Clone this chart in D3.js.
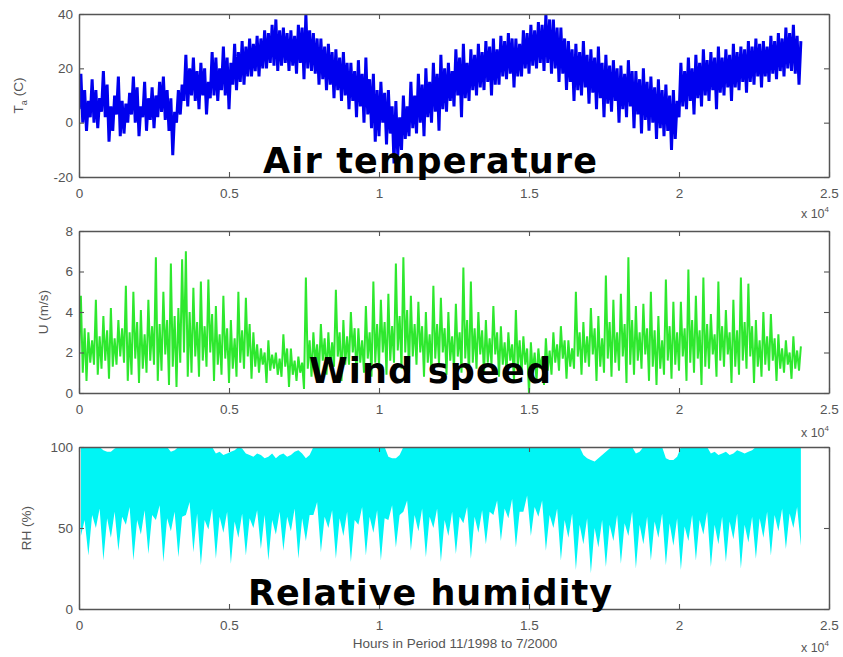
<!DOCTYPE html>
<html>
<head>
<meta charset="utf-8">
<script src="https://cdn.jsdelivr.net/npm/d3@7/dist/d3.min.js"></script>
<style>
  html, body { margin: 0; padding: 0; background: #fff; }
  svg { display: block; }
  .tick text { font-family: "Liberation Sans", Arial, sans-serif; font-size: 13.5px; fill: #555; }
  .axis path, .axis line { stroke: #555; }
</style>
</head>
<body>
<svg id="chart" width="843" height="657"></svg>
<script>
// Hourly records, summarised as the low and high reading of each 125-hour block
const BLOCK_HOURS = 125;

// Air temperature (C)
const tempLow = [
  5,0,-3,2,0,-2,4,2,-7,-3,
  3,-5,-4,0,3,0,-5,2,-3,1,
  -2,2,4,1,-3,-12,0,3,8,6,
  10,8,5,10,3,9,10,8,12,10,
  5,14,12,15,14,17,17,19,17,20,
  20,22,21,19,21,22,19,21,18,22,
  16,20,19,18,14,16,12,14,9,12,
  8,10,5,8,2,6,0,3,-2,-7,
  -5,0,-8,-4,-15,-12,-10,-6,-5,-2,
  -4,0,-5,2,0,4,-3,5,4,8,
  6,10,2,9,8,12,10,13,12,15,
  10,14,14,17,16,18,13,17,17,20,
  18,21,20,22,19,22,18,20,15,18,
  12,15,8,12,10,13,7,11,5,9,
  2,7,4,8,0,5,2,6,-2,3,
  -4,1,-3,0,-6,-2,-5,-3,-10,-6,
  2,6,5,8,3,9,6,10,8,12,
  5,11,10,13,8,13,12,15,11,15,
  14,17,13,17,15,18,16,19,17,20,
  19,18,14];
const tempHigh = [
  18,12,8,16,12,9,19,14,6,10,
  17,8,7,11,17,13,6,15,9,13,
  10,15,17,12,9,4,12,14,25,20,
  24,19,22,20,15,26,24,20,28,24,
  22,29,26,30,28,31,29,32,31,34,
  33,36,38,34,35,33,34,32,36,35,
  40,34,33,31,31,28,29,26,27,24,
  26,22,22,19,23,18,24,16,18,12,
  15,11,12,6,8,2,10,6,15,10,
  18,14,20,15,22,18,25,20,22,19,
  27,24,29,22,27,25,29,26,30,28,
  31,27,32,30,33,31,31,29,34,33,
  36,34,37,36,40,38,38,35,35,31,
  30,27,29,26,30,25,27,24,28,22,
  25,21,23,20,21,18,23,19,19,16,
  20,15,17,13,16,12,14,10,12,8,
  22,19,24,20,25,22,27,23,26,24,
  28,24,27,25,29,26,28,27,30,28,
  31,29,30,28,32,30,33,31,35,33,
  36,32,30];

// Wind speed (m/s)
const windLow = [
  1.8,1.0,0.6,1.5,1.4,0.9,1.2,1.6,0.7,1.3,
  1.4,1.8,1.5,0.6,0.9,1.7,0.5,1.2,1.0,1.6,
  1.4,0.6,1.1,1.9,0.4,1.3,0.3,1.5,2.0,0.8,
  1.0,1.8,0.8,1.6,1.3,2.0,0.6,1.4,0.9,1.7,
  0.5,1.2,0.8,1.5,1.2,1.8,0.7,1.3,1.0,1.4,
  0.5,1.1,1.2,0.9,0.8,1.3,0.3,0.9,0.6,1.0,
  0.2,1.2,0.8,1.5,1.0,1.6,0.9,1.3,1.3,1.8,
  0.6,1.4,1.4,2.0,0.7,1.5,1.0,1.7,0.8,1.5,
  1.3,2.0,0.9,1.6,1.5,2.1,1.2,2.0,1.0,1.8,
  1.4,2.0,0.8,1.5,1.0,1.7,1.4,2.0,0.9,1.6,
  1.2,1.8,1.0,1.7,0.7,1.5,1.2,1.9,0.9,1.5,
  1.4,1.9,0.8,1.4,1.0,1.6,0.6,1.3,0.9,1.4,
  0.0,1.0,0.6,1.2,0.4,1.1,0.9,1.5,1.1,1.7,
  0.7,1.3,1.2,1.8,0.9,1.5,1.3,1.9,0.6,1.3,
  1.0,1.7,0.8,1.5,1.1,1.8,0.5,1.4,0.9,1.6,
  1.2,1.9,0.6,1.3,0.4,1.2,0.9,1.6,0.7,1.4,
  1.1,1.8,0.6,1.5,1.0,1.7,0.4,1.3,1.2,1.9,
  0.8,1.6,1.3,1.9,0.5,1.3,0.9,1.6,1.2,1.8,
  0.5,1.3,0.8,1.4,1.1,1.6,0.6,1.2,1.0,1.4,
  0.7,1.2,1.1];
const windHigh = [
  4.8,3.2,3.0,2.6,4.6,2.8,3.8,3.1,4.2,2.7,
  3.6,3.2,5.3,3.0,5.0,3.5,4.1,2.9,4.6,3.3,
  6.7,3.4,5.0,3.6,6.4,3.8,4.2,6.6,7.0,4.0,
  5.2,3.5,5.5,3.3,5.6,3.9,4.3,2.9,4.8,3.2,
  3.6,2.7,5.0,3.1,4.7,3.4,3.0,2.4,2.2,2.0,
  2.6,1.9,2.0,1.7,2.9,2.2,2.2,1.6,1.8,1.5,
  5.7,2.6,3.0,2.4,3.4,2.7,3.0,2.5,5.1,3.0,
  3.6,2.8,4.0,3.2,3.2,2.6,4.3,3.0,5.5,3.4,
  4.6,3.5,4.9,3.3,6.4,3.8,6.7,4.1,4.8,3.4,
  4.5,3.3,4.0,2.9,5.3,3.4,4.7,3.2,4.0,2.8,
  4.4,3.0,6.2,3.6,5.5,3.2,4.0,3.1,3.6,2.7,
  4.3,3.0,3.3,2.5,3.0,2.4,4.1,2.6,2.8,2.2,
  2.5,2.0,2.2,1.8,2.7,2.1,3.0,2.4,3.3,2.6,
  2.6,2.2,5.0,3.0,3.5,2.8,4.2,3.2,3.8,2.7,
  5.8,3.5,4.6,3.0,4.9,3.4,6.7,3.6,4.3,3.0,
  4.4,3.2,5.0,3.1,3.8,2.6,5.6,3.3,4.5,3.0,
  4.5,3.2,6.1,3.6,4.8,3.1,5.7,3.4,3.9,2.9,
  5.5,3.3,4.1,3.0,4.6,3.1,5.7,3.5,5.4,3.3,
  3.6,2.6,4.0,2.8,3.9,2.7,2.9,2.2,2.6,2.0,
  2.8,2.1,2.3];

// Relative humidity (%)
const rhLow = [
  45,55,33,58,50,62,30,56,44,60,
  36,57,52,63,30,55,46,61,34,58,
  55,64,29,56,48,60,32,57,58,66,
  35,59,27,55,49,62,31,57,47,60,
  28,54,44,59,33,56,50,61,37,58,
  30,55,46,60,36,57,48,62,31,56,
  42,58,58,66,35,57,50,61,31,56,
  45,60,29,55,52,63,33,57,47,61,
  30,56,55,64,38,58,60,67,36,58,
  48,62,32,57,50,62,29,55,45,60,
  34,57,53,63,31,57,47,61,40,60,
  58,67,42,62,56,68,38,60,60,70,
  45,63,57,67,36,58,50,62,30,55,
  44,59,24,52,40,56,22,50,38,55,
  26,52,42,58,28,53,45,60,25,52,
  40,57,30,54,44,59,27,53,39,56,
  24,51,42,58,30,55,46,60,26,52,
  40,57,29,54,43,59,25,52,41,57,
  31,56,44,60,33,58,48,62,37,59,
  50,63,39];
const rhHigh = [
  100,100,100,100,100,100,98,97,97,99,
  100,100,100,100,100,100,100,100,100,100,
  100,100,100,100,97,98,100,100,100,100,
  100,100,100,100,100,100,96,97,95,96,
  97,98,100,99,96,95,94,96,95,93,
  94,96,93,95,96,94,95,97,98,96,
  93,95,100,100,100,100,100,100,100,100,
  100,100,100,100,100,100,100,100,100,100,
  100,100,94,93,93,95,100,100,100,100,
  100,100,100,100,100,100,100,100,100,100,
  100,100,100,100,100,100,100,100,100,100,
  100,100,100,100,100,100,100,100,100,100,
  100,100,100,100,100,100,100,100,100,100,
  100,100,100,100,95,93,92,91,93,95,
  97,99,100,100,100,100,100,100,96,97,
  100,100,100,100,100,100,93,92,92,94,
  100,100,100,100,100,100,100,100,96,97,
  95,96,97,95,96,98,97,96,97,98,
  100,100,100,100,100,100,100,100,100,100,
  100,100,100];

// Axis ticks and labels
const xTickValues = [0, 5000, 10000, 15000, 20000, 25000];
const xTickLabels = ["0", "0.5", "1", "1.5", "2", "2.5"];
const tempTicks = [-20, 0, 20, 40];
const windTicks = [0, 2, 4, 6, 8];
const rhTicks = [0, 50, 100];
const panelTitles = ["Air temperature", "Wind speed", "Relative humidity"];
const xAxisTitle = "Hours in Period 11/1998 to 7/2000";

const svg = d3.select("#chart");
const left = 79, right = 829;
const x = d3.scaleLinear().domain([0, 25000]).range([left, right]);

// Trace through each block's low then high reading
function blockPoints(low, high) {
  const pts = [];
  low.forEach((lo, i) => {
    const h = i * BLOCK_HOURS;
    pts.push([h, lo]);
    pts.push([h + BLOCK_HOURS / 2, high[i]]);
  });
  return pts;
}

const panels = [
  { top: 14, bottom: 177, domain: [-20, 40], ticks: tempTicks, low: tempLow, high: tempHigh,
    color: "#0000ee", width: 3.0, band: false, title: panelTitles[0], titleW: 334, titleY: 173,
    ylab: "T", ysub: "a", yunit: " (C)", ylabX: 23, scaleY: 218 },
  { top: 231, bottom: 393, domain: [0, 8], ticks: windTicks, low: windLow, high: windHigh,
    color: "#2ee82e", width: 2.0, band: false, title: panelTitles[1], titleW: 242, titleY: 383,
    ylab: "U (m/s)", ysub: null, yunit: "", ylabX: 48, scaleY: 437 },
  { top: 447, bottom: 609, domain: [0, 100], ticks: rhTicks, low: rhLow, high: rhHigh,
    color: "#00f5f5", width: 0, band: true, title: panelTitles[2], titleW: 364, titleY: 605,
    ylab: "RH (%)", ysub: null, yunit: "", ylabX: 31, scaleY: 652 }
];

const defs = svg.append("defs");

panels.forEach((p, k) => {
  const y = d3.scaleLinear().domain(p.domain).range([p.bottom, p.top]);
  const g = svg.append("g");

  defs.append("clipPath").attr("id", "clip" + k)
    .append("rect").attr("x", left).attr("y", p.top)
    .attr("width", right - left).attr("height", p.bottom - p.top);

  const plot = g.append("g").attr("clip-path", `url(#clip${k})`);

  if (p.band) {
    // filled range between each block's high and low
    const area = d3.area()
      .x((d, i) => x(i * BLOCK_HOURS + BLOCK_HOURS / 2))
      .y0((d, i) => y(p.low[i]))
      .y1((d, i) => y(p.high[i]));
    plot.append("path").datum(p.low).attr("fill", p.color).attr("d", area);
  } else {
    const line = d3.line().x(d => x(d[0])).y(d => y(d[1]));
    plot.append("path")
      .datum(blockPoints(p.low, p.high))
      .attr("fill", "none")
      .attr("stroke", p.color)
      .attr("stroke-width", p.width)
      .attr("stroke-linejoin", "bevel")
      .attr("d", line);
  }

  // box axes with inward ticks
  const xb = d3.axisBottom(x).tickValues(xTickValues)
    .tickFormat((d, i) => xTickLabels[i]).tickSizeInner(-5).tickSizeOuter(0).tickPadding(11);
  const xt = d3.axisTop(x).tickValues(xTickValues).tickFormat("").tickSizeInner(-5).tickSizeOuter(0);
  const yl = d3.axisLeft(y).tickValues(p.ticks).tickFormat(d => String(d))
    .tickSizeInner(-5).tickSizeOuter(0).tickPadding(6);
  const yr = d3.axisRight(y).tickValues(p.ticks).tickFormat("").tickSizeInner(-5).tickSizeOuter(0);

  [[xb, `translate(0,${p.bottom})`], [xt, `translate(0,${p.top})`],
   [yl, `translate(${left},0)`], [yr, `translate(${right},0)`]].forEach(([ax, tr]) => {
    const a = g.append("g").attr("class", "axis").attr("transform", tr).call(ax);
    a.select(".domain").attr("stroke", "#555").attr("stroke-width", 1.5);
    a.selectAll(".tick line").attr("stroke", "#555").attr("stroke-width", 1.1);
  });

  // y axis title
  const yt = g.append("text")
    .attr("transform", `translate(${p.ylabX},${(p.top + p.bottom) / 2}) rotate(-90)`)
    .attr("text-anchor", "middle")
    .attr("font-family", "Liberation Sans, Arial, sans-serif")
    .attr("font-size", 13.5).attr("fill", "#555");
  yt.append("tspan").text(p.ylab);
  if (p.ysub) {
    yt.append("tspan").attr("font-size", 9).attr("dy", 4).text(p.ysub);
    yt.append("tspan").attr("dy", -4).text(p.yunit);
  }

  // x 10^4 multiplier
  const m = g.append("text")
    .attr("x", 829).attr("y", p.scaleY)
    .attr("text-anchor", "end")
    .attr("font-family", "Liberation Sans, Arial, sans-serif")
    .attr("font-size", 12.5).attr("fill", "#555");
  m.append("tspan").text("x 10");
  m.append("tspan").attr("font-size", 8).attr("dy", -6).text("4");

  // panel title drawn over the plot
  g.append("text")
    .attr("x", 430).attr("y", p.titleY)
    .attr("text-anchor", "middle")
    .attr("font-family", "DejaVu Sans, Verdana, sans-serif")
    .attr("font-weight", "bold")
    .attr("font-size", 35)
    .attr("textLength", p.titleW)
    .attr("lengthAdjust", "spacing")
    .attr("fill", "#000")
    .text(p.title);
});

svg.append("text")
  .attr("x", 455).attr("y", 648)
  .attr("text-anchor", "middle")
  .attr("font-family", "Liberation Sans, Arial, sans-serif")
  .attr("font-size", 13.5).attr("fill", "#555")
  .text(xAxisTitle);
</script>
</body>
</html>
